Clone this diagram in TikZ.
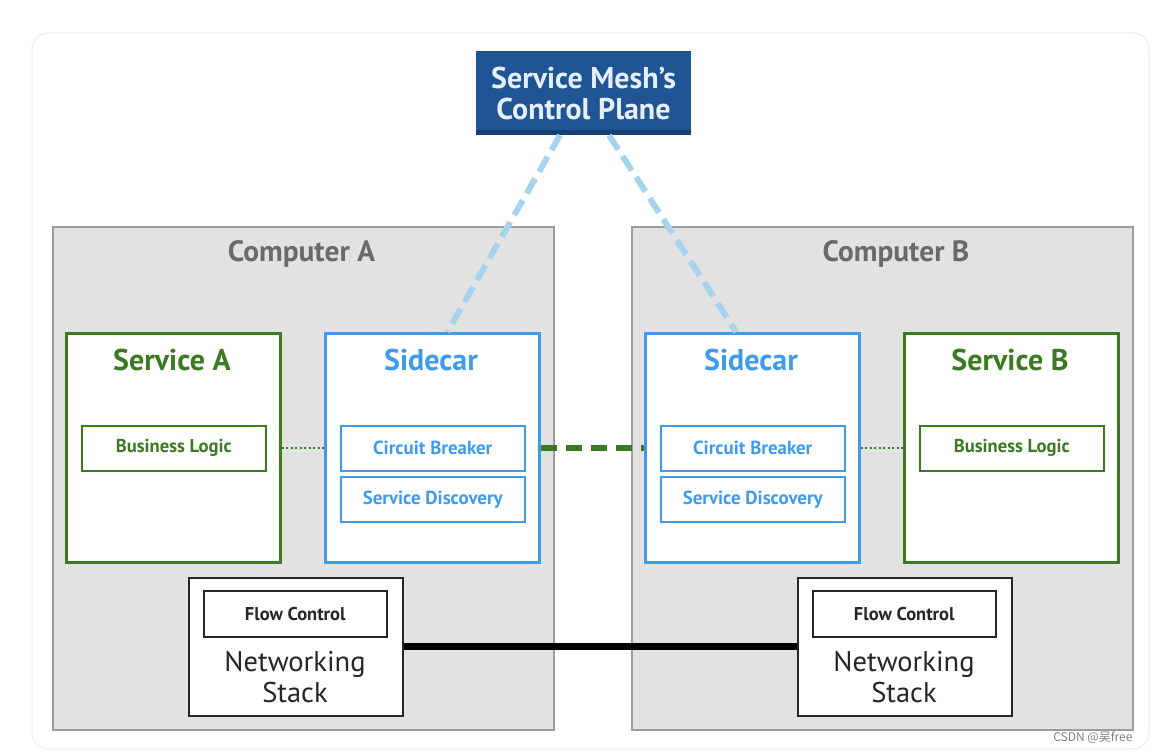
\documentclass[tikz,border=0pt]{standalone}
\usepackage{fontspec}
\setmainfont{PT Sans}
\newfontfamily\cjkfont{Noto Sans CJK SC}
\definecolor{cpblue}{HTML}{1F5594}
\definecolor{cpshade}{HTML}{163F6E}
\definecolor{cptext}{HTML}{E6EFF8}
\definecolor{cfill}{HTML}{E2E2E2}
\definecolor{cgray}{HTML}{9C9C9C}
\definecolor{ctext}{HTML}{6A6A6A}
\definecolor{sgreen}{HTML}{3B7A21}
\definecolor{sblue}{HTML}{3D9BE9}
\definecolor{lblue}{HTML}{A6D4EE}
\definecolor{frame}{HTML}{ECECEC}
\tikzset{
  comp/.style={draw=cgray, fill=cfill, line width=1.5pt, minimum width=501pt, minimum height=503pt, anchor=north west, inner sep=0pt},
  svc/.style={draw=sgreen, fill=white, line width=2.5pt, minimum width=214pt, minimum height=229pt, anchor=north west, inner sep=0pt},
  side/.style={draw=sblue, fill=white, line width=2.5pt, minimum width=214pt, minimum height=229pt, anchor=north west, inner sep=0pt},
  gin/.style={draw=sgreen, fill=white, line width=1.5pt, minimum width=184pt, minimum height=45pt, anchor=north west, inner sep=0pt, text=sgreen, font=\fontsize{18.6}{22}\selectfont\bfseries},
  bin/.style={draw=sblue, fill=white, line width=1.5pt, minimum width=184pt, minimum height=45pt, anchor=north west, inner sep=0pt, text=sblue, font=\fontsize{18.9}{22}\selectfont\bfseries},
  net/.style={draw=black!85, fill=white, line width=1.5pt, minimum width=214pt, minimum height=138pt, anchor=north west, inner sep=0pt},
  flow/.style={draw=black!85, fill=white, line width=1.5pt, minimum width=183pt, minimum height=46pt, anchor=north west, inner sep=0pt, text=black!85, font=\fontsize{18.5}{22}\selectfont\bfseries},
  ctitle/.style={text=ctext, font=\fontsize{29.4}{34}\selectfont\bfseries},
  gtitle/.style={text=sgreen, font=\fontsize{30}{34}\selectfont\bfseries},
  btitle/.style={text=sblue, font=\fontsize{30}{34}\selectfont\bfseries},
  ntext/.style={text=black!85, align=center, font=\fontsize{28.5}{31}\selectfont},
  cpline/.style={draw=lblue, line width=6pt, dash pattern=on 17pt off 8pt},
  link/.style={draw=sgreen, line width=6pt, dash pattern=on 16pt off 9pt},
  dots/.style={draw=sgreen, line width=2pt, dash pattern=on 2pt off 2.5pt},
  wire/.style={draw=black, line width=7pt}
}
\begin{document}
\begin{tikzpicture}[x=1pt,y=-1pt]
\useasboundingbox (0,0) rectangle (1150,754);
\draw[frame, line width=1pt, rounded corners=16pt] (32,33) rectangle (1149,749);
% computers
\node[comp] (compA) at (52,226) {};
\node[comp] (compB) at (631,226) {};
\node[ctitle] (tA) at (301.5,254) {Computer A};
\node[ctitle] (tB) at (896,254) {Computer B};
% services
\node[svc] (svcA) at (65,332) {};
\node[gtitle] (svcAt) at (172,360) {Service A};
\node[gin] (blA) at (81,425) {Business Logic};
\node[svc] (svcB) at (903,332) {};
\node[gtitle] (svcBt) at (1010,360) {Service B};
\node[gin] (blB) at (919,425) {Business Logic};
% sidecars
\node[side] (sideA) at (324,332) {};
\node[btitle] (sideAt) at (431,360) {Sidecar};
\node[bin] (cbA) at (340,425) {Circuit Breaker};
\node[bin] (sdA) at (340,476) {Service Discovery};
\node[side] (sideB) at (644,332) {};
\node[btitle] (sideBt) at (751,360) {Sidecar};
\node[bin] (cbB) at (660,425) {Circuit Breaker};
\node[bin] (sdB) at (660,476) {Service Discovery};
% networking stacks
\node[net] (nsA) at (188,577) {};
\node[flow] (fcA) at (203,590) {Flow Control};
\node[ntext] (nsAt) at (295,677) {Networking\\Stack};
\node[net] (nsB) at (797,577) {};
\node[flow] (fcB) at (812,590) {Flow Control};
\node[ntext] (nsBt) at (904,677) {Networking\\Stack};
% control plane
\node[fill=cpshade, minimum width=215pt, minimum height=81pt, inner sep=0pt] (cpshadow) at (583.5,94.5) {};
\node[fill=cpblue, minimum width=215pt, minimum height=79pt, inner sep=0pt, text=cptext, align=center, font=\fontsize{30}{31}\selectfont\bfseries] (cp) at (583.5,91) {};
\node[text=cptext, align=center, font=\fontsize{30}{31}\selectfont\bfseries] (cpt) at (583.5,93.5) {Service Mesh’s\\Control Plane};
% connectors
\draw[cpline] ([xshift=-23.5pt]cpshadow.south) -- ([xshift=15pt]sideA.north);
\draw[cpline] ([xshift=25.5pt]cpshadow.south) -- ([xshift=-16pt]sideB.north);
\draw[link] (sideA.east |- cbA.east) -- (sideB.west |- cbB.west);
\draw[dots] (svcA.east |- blA.east) -- (sideA.west |- cbA.west);
\draw[dots] (sideB.east |- cbB.east) -- (svcB.west |- blB.west);
\draw[wire] (nsA.east) -- (nsB.west);
% watermark
\node[anchor=east, text=black!50, font=\cjkfont\fontsize{12}{14}\selectfont] (wm) at (1136,738) {CSDN @吴free};
\end{tikzpicture}
\end{document}
